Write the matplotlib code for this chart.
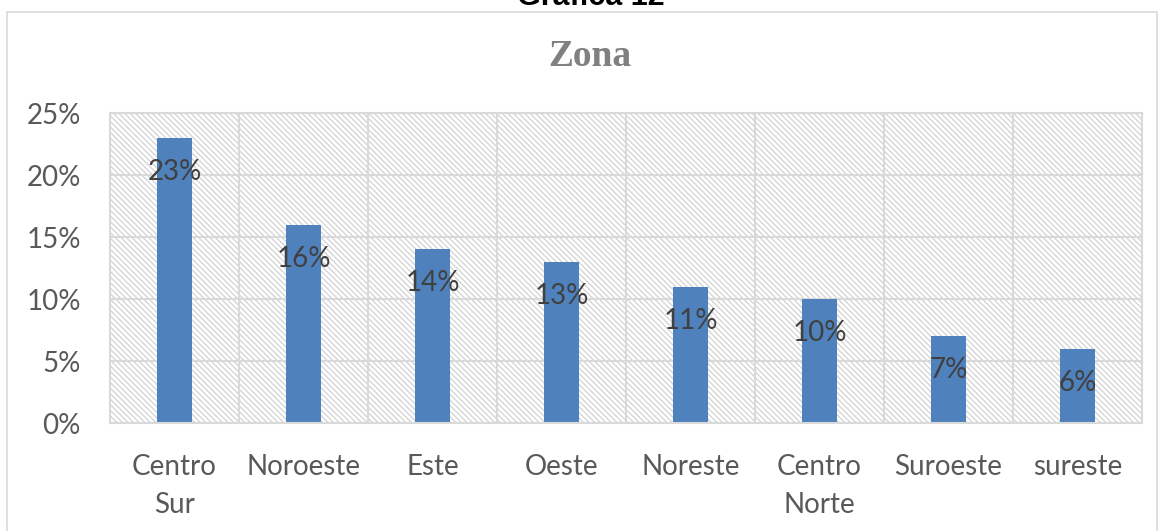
import matplotlib.pyplot as plt
from matplotlib.patches import Rectangle

# data
zonas = ['Centro\nSur', 'Noroeste', 'Este', 'Oeste', 'Noreste', 'Centro\nNorte', 'Suroeste', 'sureste']
porcentajes = [23, 16, 14, 13, 11, 10, 7, 6]
yticks = [0, 5, 10, 15, 20, 25]

bar_color = '#4F81BD'
grid_color = '#D9D9D9'
text_color = '#595959'
label_color = '#404040'

plt.rcParams['font.family'] = ['Lato', 'DejaVu Sans']
plt.rcParams['hatch.linewidth'] = 0.9

W, H = 1160, 531
fig = plt.figure(figsize=(W / 100, H / 100), dpi=100)

# chart border
fig.patches.append(Rectangle((7 / W, -0.05), 1150 / W, 1.05 - 12 / H,
                             transform=fig.transFigure, fill=False,
                             edgecolor=grid_color, linewidth=1.2))

ax = fig.add_axes([110 / W, 1 - 423 / H, (1142 - 110) / W, (423 - 113) / H])

x = range(len(zonas))
ax.set_xlim(-0.5, len(zonas) - 0.5)
ax.set_ylim(0, 25)

# hatched plot area
ax.add_patch(Rectangle((0, 0), 1, 1, transform=ax.transAxes, facecolor='white',
                       edgecolor='#D2D2D2', hatch='\\' * 6, linewidth=0, zorder=0))

# grid
for yv in yticks:
    ax.axhline(yv, color=grid_color, linewidth=1.5, zorder=1)
for xv in [i + 0.5 for i in range(len(zonas) - 1)]:
    ax.axvline(xv, color=grid_color, linewidth=1.5, zorder=1)

bars = ax.bar(x, porcentajes, width=0.27, color=bar_color, zorder=2)

for b, v in zip(bars, porcentajes):
    ax.annotate(f'{v}%', (b.get_x() + b.get_width() / 2, v), xytext=(0, -24.5),
                textcoords='offset points', ha='center', va='center',
                fontsize=20, color=label_color, zorder=3)

ax.set_yticks(yticks)
ax.set_yticklabels([f'{v}%' for v in yticks])
ax.set_xticks(list(x))
ax.set_xticklabels(zonas, linespacing=1.58)
ax.tick_params(axis='both', length=0, labelsize=20, colors=text_color)
ax.tick_params(axis='y', pad=21)
ax.tick_params(axis='x', pad=22)
for t in ax.get_xticklabels():
    t.set_verticalalignment('top')

for s in ax.spines.values():
    s.set_color(grid_color)
    s.set_linewidth(1.5)

fig.text(590 / W, 1 - 56 / H, 'Zona', ha='center', va='center',
         fontsize=27, fontweight='bold', color='#808080', family='Liberation Serif')
fig.text(591 / W, 1 - 5 / H, 'Gráfica 12', ha='center', va='baseline',
         fontsize=22, fontweight='bold', color='black', family='Liberation Sans')

fig.savefig('out.png', dpi=100)
